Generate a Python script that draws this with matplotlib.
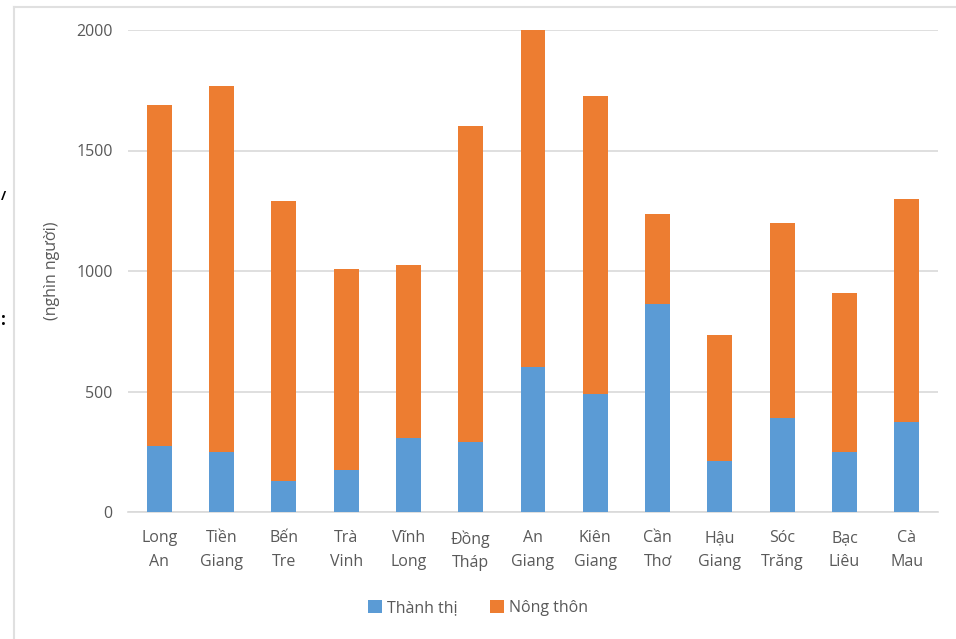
import matplotlib
matplotlib.use("Agg")
import matplotlib.pyplot as plt
from matplotlib.lines import Line2D
import numpy as np

provinces = ["Long\nAn", "Tiền\nGiang", "Bến\nTre", "Trà\nVinh", "Vĩnh\nLong", "Đồng\nTháp",
             "An\nGiang", "Kiên\nGiang", "Cần\nThơ", "Hậu\nGiang", "Sóc\nTrăng", "Bạc\nLiêu", "Cà\nMau"]
thanh_thi = [273, 247, 127, 174, 305, 292, 600, 488, 861, 213, 390, 250, 372]
nong_thon = [1417, 1521, 1162, 836, 719, 1310, 1398, 1238, 375, 523, 810, 659, 925]
yticks = [0, 500, 1000, 1500, 2000]

plt.rcParams['font.family'] = ['Open Sans', 'DejaVu Sans']
txt = '#595959'
blue = '#5b9bd5'
orange = '#ed7d31'

fig = plt.figure(figsize=(9.56, 6.39), dpi=100)
ax = fig.add_axes([128/956, 1-512/639, 810/956, 482/639])

x = np.arange(len(provinces))
ax.bar(x, thanh_thi, width=0.4, color=blue, label='Thành thị', zorder=3)
ax.bar(x, nong_thon, width=0.4, bottom=thanh_thi, color=orange, label='Nông thôn', zorder=3)

ax.set_xlim(-0.5, len(provinces) - 0.5)
ax.set_ylim(0, 2000)
ax.set_yticks(yticks)
ax.set_xticks(x)
ax.set_xticklabels(provinces, linespacing=1.65)
ax.tick_params(axis='both', length=0, colors=txt, labelsize=11.5)
ax.tick_params(axis='y', pad=11)
ax.tick_params(axis='x', pad=13)
ax.grid(axis='y', color='#d9d9d9', linewidth=1.2, zorder=0)
for s in ['top', 'right', 'left']:
    ax.spines[s].set_visible(False)
ax.spines['bottom'].set_color('#d9d9d9')
ax.spines['bottom'].set_linewidth(1.2)
ax.set_ylabel('(nghìn người)', color=txt, fontsize=11.5, labelpad=12)

leg = fig.legend(loc='center', bbox_to_anchor=(0.5, 1-608/639), ncol=2, frameon=False,
                 fontsize=11.5, handlelength=0.9, handleheight=0.9, handletextpad=0.3,
                 columnspacing=2.0)
for t in leg.get_texts():
    t.set_color(txt)

# outer frame
fig.add_artist(Line2D([14/956, 1], [1-7/639, 1-7/639], transform=fig.transFigure,
                      color='#e0e0e0', linewidth=1.5))
fig.add_artist(Line2D([14/956, 14/956], [0, 1-7/639], transform=fig.transFigure,
                      color='#e0e0e0', linewidth=1.5))
# text fragments on the left edge
fig.text(1/956, 1-196/639, '/', color='black', fontsize=9, fontweight='bold', va='center', ha='left')
fig.text(1/956, 1-320/639, ':', color='black', fontsize=12, fontweight='bold', va='center', ha='left')

fig.savefig('out.png', dpi=100)
